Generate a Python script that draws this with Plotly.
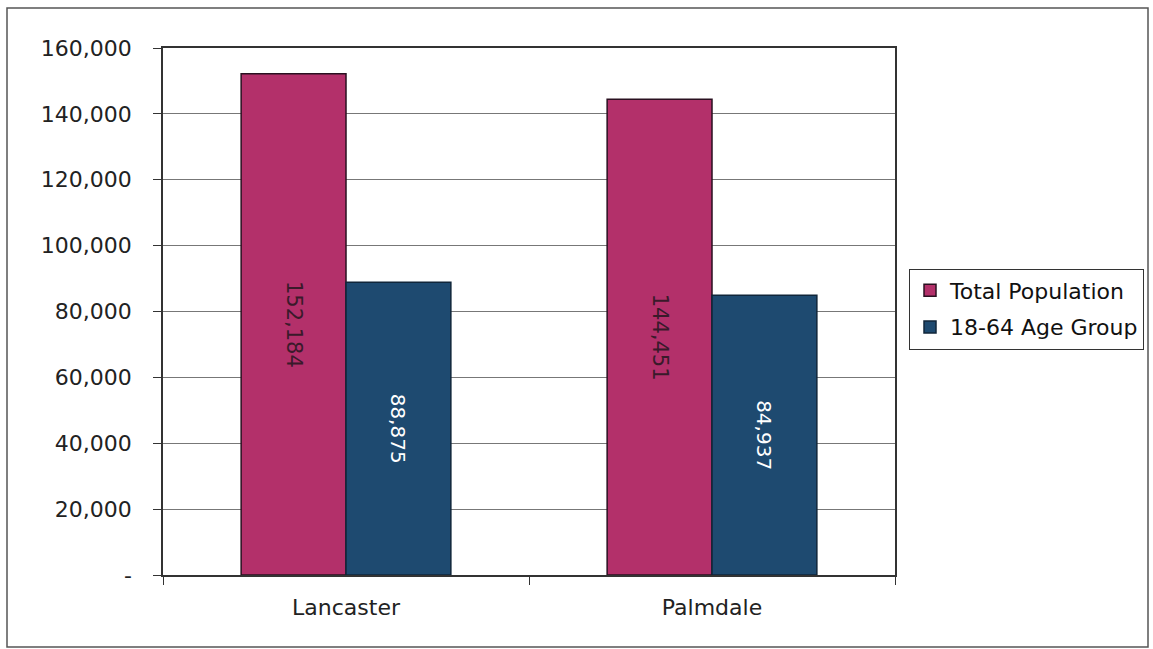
import plotly.graph_objects as go

cities = ["Lancaster", "Palmdale"]
total_population = [152184, 144451]
age_18_64 = [88875, 84937]
tick_vals = [0, 20000, 40000, 60000, 80000, 100000, 120000, 140000, 160000]
tick_text = ["-", "20,000", "40,000", "60,000", "80,000", "100,000", "120,000", "140,000", "160,000"]

FONT = "DejaVu Sans"

W, H = 1153, 649
L, R, T, B = 163, 1153 - 895, 48, 649 - 575
pw, ph = W - L - R, H - T - B

fig = go.Figure()
fig.add_trace(go.Bar(
    name="Total Population", x=cities, y=total_population,
    legendgroup="a",
    marker=dict(color="#B3306A", line=dict(color="#2a1020", width=1.5)),
    text=[f"{v:,}" for v in total_population], textposition="inside",
    insidetextanchor="middle", textangle=90,
    textfont=dict(family=FONT, size=21, color="#3a1a2a"),
))
fig.add_trace(go.Bar(
    name="18-64 Age Group", x=cities, y=age_18_64,
    legendgroup="b",
    marker=dict(color="#1E4A70", line=dict(color="#10263a", width=1.5)),
    text=[f"{v:,}" for v in age_18_64], textposition="inside",
    insidetextanchor="middle", textangle=90,
    textfont=dict(family=FONT, size=20, color="#ffffff"),
))

fig.update_layout(
    width=W, height=H,
    margin=dict(l=L, r=R, t=T, b=B, autoexpand=False),
    paper_bgcolor="white", plot_bgcolor="white",
    barmode="group", bargap=0.427, bargroupgap=0,
    font=dict(family=FONT, size=22, color="#222222"),
    legend=dict(x=(909 - L) / pw, y=(H - B - 309) / ph, xanchor="left", yanchor="middle",
                bordercolor="#333333", borderwidth=1,
                font=dict(family=FONT, size=22, color="#111111"),
                itemwidth=30, tracegroupgap=5, traceorder="grouped"),
    showlegend=True,
    shapes=[dict(type="rect", xref="paper", yref="paper",
                 x0=(7 - L) / pw, x1=(1148 - L) / pw,
                 y0=-(647 - (H - B)) / ph, y1=1 + (T - 8) / ph,
                 line=dict(color="#555555", width=1.5), layer="below")],
)
fig.update_yaxes(range=[0, 160000], tickvals=tick_vals, ticktext=tick_text,
                 showgrid=True, gridcolor="#777777", gridwidth=1,
                 showline=True, linecolor="#333333", linewidth=1.5, mirror=True,
                 ticks="outside", ticklen=8, tickcolor="#333333",
                 ticklabelstandoff=17,
                 tickfont=dict(family=FONT, size=22, color="#222222"))
fig.update_xaxes(showline=True, linecolor="#333333", linewidth=1.5, mirror=True,
                 ticks="outside", tickson="boundaries", ticklen=8, tickcolor="#333333",
                 ticklabelstandoff=12,
                 tickfont=dict(family=FONT, size=22, color="#222222"))

fig.write_html("out.html", config={"displayModeBar": False},
               post_script="document.body.style.margin='0';document.body.style.overflow='hidden';")
